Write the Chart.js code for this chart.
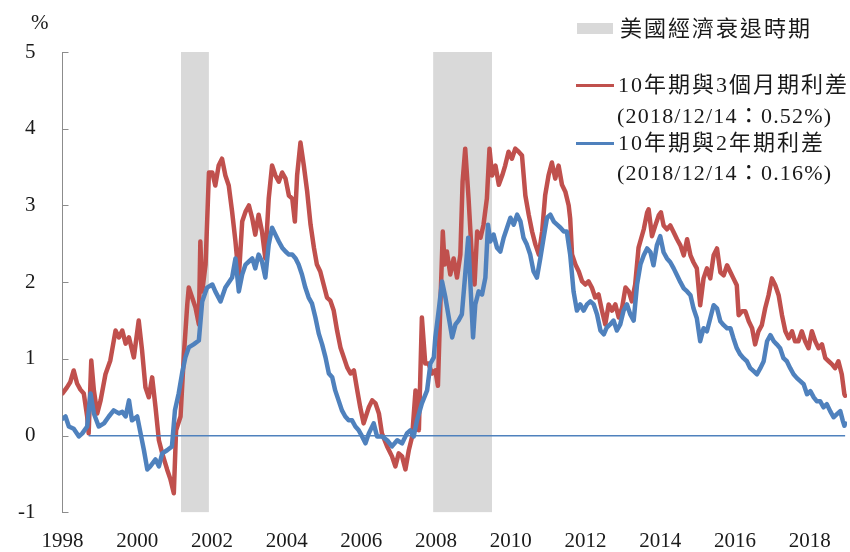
<!DOCTYPE html>
<html>
<head>
<meta charset="utf-8">
<style>
  body { margin: 0; background: #fff; }
  #wrap { position: relative; width: 850px; height: 552px; }
  #myChart { position: absolute; left: 0; top: 0; }
  .txt { position: absolute; white-space: nowrap; color: #1a1a1a; line-height: 24px; height: 24px;
         font-family: "Liberation Serif", "Noto Sans CJK TC", serif; font-size: 22px; }
  .cjk { letter-spacing: 2px; }
  .date { letter-spacing: 1.2px; }
  .swatch { position: absolute; }
</style>
</head>
<body>
<div id="wrap">
  <canvas id="myChart" width="850" height="552"></canvas>

  <!-- unit label -->
  <div class="txt" style="left:31px; top:10px; font-size:21px;">%</div>

  <!-- legend -->
  <div class="swatch" style="left:577px; top:23px; width:36px; height:11px; background:#D9D9D9;"></div>
  <div class="txt cjk" style="left:620px; top:17px;">美國經濟衰退時期</div>

  <div class="swatch" style="left:576px; top:84px; width:38px; height:3px; background:#C0504D;"></div>
  <div class="txt cjk" style="left:618px; top:73px;">10年期與3個月期利差</div>
  <div class="txt date" style="left:617px; top:104px;">(2018/12/14：0.52%)</div>

  <div class="swatch" style="left:576px; top:142px; width:38px; height:3px; background:#4F81BD;"></div>
  <div class="txt cjk" style="left:618px; top:131px;">10年期與2年期利差</div>
  <div class="txt date" style="left:617px; top:161px;">(2018/12/14：0.16%)</div>
</div>

<script type="text/javascript" src="https://cdn.jsdelivr.net/npm/chart.js@4.4.2/dist/chart.umd.min.js"></script>
<script>
// x values are decimal years, y values are percent
const xTickYears = [1998, 2000, 2002, 2004, 2006, 2008, 2010, 2012, 2014, 2016, 2018];
const yTickValues = [-1, 0, 1, 2, 3, 4, 5];

// US recessions (shaded)
const recessionStarts = [2001.17, 2007.92];
const recessionEnds = [2001.92, 2009.5];

// 10y - 3m spread
const spread3mDates = [
    1998.00, 1998.12, 1998.21, 1998.30, 1998.39, 1998.48, 1998.57, 1998.66, 1998.70, 1998.77,
    1998.84, 1998.93, 1999.02, 1999.15, 1999.28, 1999.42, 1999.51, 1999.60, 1999.69, 1999.78,
    1999.91, 2000.04, 2000.13, 2000.22, 2000.31, 2000.40, 2000.49, 2000.58, 2000.67, 2000.80,
    2000.89, 2000.98, 2001.04, 2001.16, 2001.25, 2001.34, 2001.38, 2001.47, 2001.56, 2001.65,
    2001.69, 2001.74, 2001.83, 2001.92, 2002.01, 2002.09, 2002.18, 2002.27, 2002.36, 2002.45,
    2002.54, 2002.63, 2002.72, 2002.81,
    2002.90, 2002.99, 2003.08, 2003.16, 2003.25, 2003.34, 2003.43, 2003.52, 2003.61, 2003.70,
    2003.79, 2003.88, 2003.97, 2004.06, 2004.15, 2004.22, 2004.28, 2004.37, 2004.46, 2004.55,
    2004.64, 2004.73, 2004.81, 2004.90, 2004.99, 2005.08, 2005.17, 2005.26, 2005.35, 2005.44,
    2005.53, 2005.62, 2005.71, 2005.80, 2005.89, 2005.97, 2006.06, 2006.20, 2006.29, 2006.38,
    2006.47, 2006.55, 2006.69, 2006.82, 2006.91, 2007.00, 2007.09, 2007.18, 2007.27, 2007.36,
    2007.45, 2007.54, 2007.62, 2007.71, 2007.80, 2007.89, 2007.98,
    2008.05, 2008.11, 2008.18, 2008.23, 2008.29, 2008.38, 2008.47, 2008.56, 2008.65, 2008.71,
    2008.78, 2008.87, 2008.96, 2009.03, 2009.10, 2009.19, 2009.27, 2009.36, 2009.43, 2009.50,
    2009.59, 2009.68, 2009.77, 2009.85, 2009.94, 2010.03, 2010.12, 2010.21, 2010.30, 2010.39,
    2010.48, 2010.57, 2010.66, 2010.75, 2010.84, 2010.92, 2011.01, 2011.10, 2011.19, 2011.28,
    2011.37, 2011.46, 2011.55, 2011.59, 2011.64, 2011.73, 2011.82, 2011.91, 2012.00, 2012.08,
    2012.17, 2012.26, 2012.35, 2012.44, 2012.53, 2012.62, 2012.71, 2012.80, 2012.89, 2012.98,
    2013.07, 2013.16, 2013.24, 2013.33, 2013.42,
    2013.56, 2013.65, 2013.69, 2013.78, 2013.87, 2013.96, 2014.02, 2014.09, 2014.18, 2014.27,
    2014.36, 2014.45, 2014.54, 2014.63, 2014.72, 2014.81, 2014.89, 2014.98, 2015.07, 2015.16,
    2015.25, 2015.34, 2015.43, 2015.52, 2015.61, 2015.70, 2015.79, 2015.88, 2015.96, 2016.05,
    2016.10, 2016.19, 2016.28, 2016.37, 2016.46, 2016.54, 2016.63, 2016.72, 2016.81, 2016.90,
    2016.99, 2017.08, 2017.17, 2017.26, 2017.35, 2017.44, 2017.53, 2017.61, 2017.70, 2017.79,
    2017.88, 2017.97, 2018.06, 2018.15, 2018.24, 2018.33, 2018.42, 2018.51, 2018.60, 2018.68,
    2018.77, 2018.86, 2018.93, 2018.95
];
const spread3mValues = [
    0.55, 0.63, 0.70, 0.85, 0.68, 0.60, 0.55, 0.25, 0.03, 0.98,
    0.59, 0.29, 0.46, 0.80, 0.98, 1.37, 1.28, 1.37, 1.20, 1.28,
    1.02, 1.50, 1.11, 0.63, 0.50, 0.76, 0.37, -0.06, -0.23, -0.44,
    -0.57, -0.75, 0.07, 0.25, 1.06, 1.71, 1.93, 1.80, 1.67, 1.45,
    2.53, 1.88, 2.23, 3.43, 3.43, 3.26, 3.52, 3.61, 3.39, 3.26,
    2.92, 2.53, 2.06, 2.79,
    2.92, 3.00, 2.83, 2.62, 2.88, 2.66, 2.31, 3.09, 3.52, 3.39,
    3.31, 3.43, 3.35, 3.13, 3.09, 2.79, 3.39, 3.82, 3.52, 3.18,
    2.75, 2.45, 2.23, 2.14, 1.97, 1.80, 1.76, 1.63, 1.37, 1.15,
    1.02, 0.89, 0.81, 0.85, 0.59, 0.37, 0.16, 0.37, 0.46, 0.42,
    0.29, 0.03, -0.14, -0.27, -0.40, -0.23, -0.27, -0.44, -0.19, -0.01,
    0.59, 0.07, 1.54, 0.94, 0.94, 0.81, 0.85,
    0.65, 1.63, 2.66, 2.23, 2.40, 2.10, 2.31, 2.06, 2.36, 3.31,
    3.74, 3.09, 2.31, 1.97, 2.66, 2.58, 2.75, 3.09, 3.74, 3.39,
    3.52, 3.27, 3.39, 3.52, 3.70, 3.61, 3.74, 3.70, 3.65, 3.13,
    2.88, 2.66, 2.49, 2.36, 2.66, 3.13, 3.39, 3.56, 3.35, 3.52,
    3.27, 3.18, 3.00, 2.83, 2.36, 2.23, 2.14, 2.01, 1.97, 2.01,
    1.93, 1.80, 1.84, 1.63, 1.45, 1.71, 1.63, 1.71, 1.54, 1.67,
    1.93, 1.88, 1.75, 1.97, 2.45,
    2.69, 2.91, 2.95, 2.60, 2.74, 2.87, 2.91, 2.74, 2.69, 2.74,
    2.65, 2.56, 2.48, 2.35, 2.56, 2.35, 2.26, 2.18, 1.70, 2.05,
    2.18, 2.05, 2.35, 2.44, 2.13, 2.09, 2.22, 2.13, 2.05, 1.96,
    1.57, 1.62, 1.62, 1.49, 1.40, 1.19, 1.36, 1.44, 1.66, 1.83,
    2.05, 1.96, 1.83, 1.57, 1.36, 1.27, 1.36, 1.23, 1.23, 1.36,
    1.23, 1.14, 1.36, 1.23, 1.14, 1.19, 1.01, 0.97, 0.93, 0.88,
    0.97, 0.80, 0.54, 0.52
];

// 10y - 2y spread
const spread2yDates = [
    1998.00, 1998.08, 1998.17, 1998.30, 1998.44, 1998.53, 1998.66, 1998.75, 1998.84, 1998.97,
    1999.11, 1999.24, 1999.37, 1999.51, 1999.60, 1999.69, 1999.78, 1999.86, 2000.00, 2000.09,
    2000.18, 2000.27, 2000.35, 2000.49, 2000.58, 2000.67, 2000.80, 2000.93, 2001.01, 2001.11,
    2001.20, 2001.29, 2001.38, 2001.51, 2001.65, 2001.74, 2001.87, 2002.01, 2002.09, 2002.23,
    2002.36, 2002.54, 2002.63, 2002.72, 2002.81,
    2002.90, 2002.99, 2003.08, 2003.16, 2003.25, 2003.34, 2003.43, 2003.52, 2003.61, 2003.70,
    2003.79, 2003.88, 2003.97, 2004.06, 2004.15, 2004.24, 2004.32, 2004.41, 2004.50, 2004.59,
    2004.68, 2004.77, 2004.86, 2004.95, 2005.04, 2005.13, 2005.22, 2005.30, 2005.39, 2005.48,
    2005.57, 2005.66, 2005.75, 2005.84, 2005.93, 2006.02, 2006.11, 2006.20, 2006.33, 2006.42,
    2006.55, 2006.69, 2006.82, 2006.96, 2007.09, 2007.22, 2007.31, 2007.40, 2007.49, 2007.62,
    2007.76, 2007.85, 2007.94,
    2007.98, 2008.07, 2008.16, 2008.25, 2008.34, 2008.43, 2008.52, 2008.60, 2008.69, 2008.78,
    2008.86, 2008.92, 2008.99, 2009.05, 2009.14, 2009.23, 2009.32, 2009.39, 2009.45, 2009.54,
    2009.63, 2009.72, 2009.81, 2009.90, 2009.99, 2010.08, 2010.17, 2010.26, 2010.34, 2010.43,
    2010.52, 2010.61, 2010.70, 2010.79, 2010.88, 2010.97, 2011.06, 2011.15, 2011.24, 2011.33,
    2011.42, 2011.50, 2011.59, 2011.68, 2011.77, 2011.86, 2011.95, 2012.04, 2012.13, 2012.22,
    2012.31, 2012.40, 2012.49, 2012.57, 2012.66, 2012.75, 2012.84, 2012.93, 2013.02, 2013.11,
    2013.20, 2013.29, 2013.38, 2013.47,
    2013.56, 2013.65, 2013.74, 2013.82, 2013.91, 2014.00, 2014.09, 2014.18, 2014.27, 2014.36,
    2014.45, 2014.54, 2014.63, 2014.72, 2014.81, 2014.89, 2014.98, 2015.07, 2015.16, 2015.25,
    2015.34, 2015.43, 2015.52, 2015.61, 2015.70, 2015.79, 2015.88, 2015.96, 2016.05, 2016.14,
    2016.23, 2016.32, 2016.41, 2016.50, 2016.59, 2016.68, 2016.77, 2016.86, 2016.95, 2017.04,
    2017.12, 2017.21, 2017.30, 2017.39, 2017.48, 2017.57, 2017.66, 2017.75, 2017.84, 2017.93,
    2018.02, 2018.11, 2018.19, 2018.28, 2018.37, 2018.46, 2018.55, 2018.64, 2018.73, 2018.82,
    2018.89, 2018.93, 2018.95
];
const spread2yValues = [
    0.22, 0.25, 0.12, 0.09, -0.01, 0.03, 0.12, 0.55, 0.29, 0.12,
    0.16, 0.25, 0.33, 0.29, 0.31, 0.25, 0.46, 0.20, 0.25, 0.03,
    -0.19, -0.44, -0.40, -0.31, -0.40, -0.23, -0.19, -0.14, 0.33, 0.55,
    0.81, 1.02, 1.15, 1.19, 1.24, 1.75, 1.93, 1.97, 1.88, 1.75,
    1.93, 2.06, 2.31, 1.88, 2.10,
    2.23, 2.27, 2.31, 2.18, 2.36, 2.27, 2.06, 2.49, 2.71, 2.62,
    2.53, 2.45, 2.40, 2.36, 2.36, 2.31, 2.23, 2.10, 1.93, 1.80,
    1.72, 1.54, 1.33, 1.19, 1.02, 0.81, 0.76, 0.59, 0.46, 0.33,
    0.25, 0.20, 0.20, 0.12, 0.07, -0.01, -0.10, 0.03, 0.16, -0.01,
    -0.01, -0.06, -0.14, -0.06, -0.10, 0.03, 0.07, -0.01, 0.20, 0.42,
    0.59, 0.94, 1.02,
    1.28, 1.63, 2.01, 1.80, 1.54, 1.28, 1.45, 1.50, 1.58, 2.10,
    2.58, 1.97, 1.28, 1.71, 1.88, 1.84, 2.06, 2.75, 2.53, 2.62,
    2.45, 2.40, 2.58, 2.71, 2.84, 2.75, 2.88, 2.79, 2.58, 2.49,
    2.36, 2.14, 2.06, 2.31, 2.58, 2.84, 2.88, 2.79, 2.75, 2.71,
    2.66, 2.66, 2.36, 1.88, 1.63, 1.71, 1.63, 1.71, 1.75, 1.71,
    1.58, 1.37, 1.32, 1.41, 1.45, 1.50, 1.37, 1.45, 1.63, 1.71,
    1.58, 1.50, 1.97, 2.23,
    2.35, 2.44, 2.39, 2.22, 2.48, 2.60, 2.39, 2.31, 2.26, 2.18,
    2.09, 2.00, 1.92, 1.88, 1.83, 1.66, 1.53, 1.23, 1.40, 1.36,
    1.53, 1.70, 1.66, 1.49, 1.44, 1.40, 1.40, 1.27, 1.14, 1.06,
    1.01, 0.97, 0.88, 0.84, 0.80, 0.88, 0.97, 1.23, 1.31, 1.23,
    1.19, 1.14, 1.01, 0.97, 0.88, 0.80, 0.75, 0.71, 0.67, 0.54,
    0.58, 0.50, 0.45, 0.45, 0.37, 0.41, 0.32, 0.24, 0.28, 0.32,
    0.19, 0.13, 0.16
];

// zero reference line
const zeroLineDates = [1998.7, 2018.95];
const zeroLineValues = [0, 0];

const redColor = '#C0504D';
const blueColor = '#4F81BD';
const shadeColor = '#D9D9D9';
const axisColor = '#8C8C8C';
const serif = '"Liberation Serif", "Times New Roman", serif';

function toPoints(xs, ys) {
    return xs.map((x, i) => ({ x: x, y: ys[i] }));
}

const lineStyle = { pointRadius: 0, tension: 0, fill: false, borderJoinStyle: 'round', borderCapStyle: 'round' };

const datasets = [
    { label: 'zero', data: toPoints(zeroLineDates, zeroLineValues), borderColor: blueColor, borderWidth: 1.5, ...lineStyle, borderCapStyle: 'butt' },
    { label: '10年期與2年期利差', data: toPoints(spread2yDates, spread2yValues), borderColor: blueColor, borderWidth: 4.5, ...lineStyle },
    { label: '10年期與3個月期利差', data: toPoints(spread3mDates, spread3mValues), borderColor: redColor, borderWidth: 4.5, ...lineStyle }
];

// recession shading: flat line at the top of the axis filled down to the bottom
recessionStarts.forEach((start, i) => {
    datasets.push({
        label: 'recession',
        data: [{ x: start, y: 5 }, { x: recessionEnds[i], y: 5 }],
        borderWidth: 0,
        pointRadius: 0,
        fill: 'start',
        backgroundColor: shadeColor
    });
});

// small tick marks pointing into the plot on the y axis
const innerTicks = {
    id: 'innerTicks',
    beforeDatasetsDraw(chart) {
        const ctx = chart.ctx;
        const y = chart.scales.y;
        const left = chart.chartArea.left;
        ctx.save();
        ctx.strokeStyle = axisColor;
        ctx.lineWidth = 1;
        ctx.beginPath();
        y.ticks.forEach(t => {
            const py = Math.round(y.getPixelForValue(t.value)) + 0.5;
            ctx.moveTo(left, py);
            ctx.lineTo(left + 6, py);
        });
        ctx.stroke();
        ctx.restore();
    }
};

const config = {
    type: 'line',
    data: { datasets },
    options: {
        responsive: false,
        animation: false,
        layout: { padding: { left: 0, right: 3, top: 52, bottom: 0 } },
        plugins: {
            legend: { display: false },
            tooltip: { enabled: false }
        },
        scales: {
            x: {
                type: 'linear',
                min: 1998,
                max: 2019,
                grid: { display: false, drawTicks: false },
                border: { display: false },
                afterBuildTicks: (scale) => { scale.ticks = xTickYears.map(v => ({ value: v })); },
                afterFit: (scale) => { scale.height = 35; },
                ticks: {
                    color: '#1a1a1a',
                    font: { family: serif, size: 21 },
                    padding: 16,
                    maxRotation: 0,
                    autoSkip: false,
                    callback: (value) => String(value)
                }
            },
            y: {
                min: -1,
                max: 5,
                grid: { display: false, drawTicks: false },
                border: { display: true, color: axisColor, width: 1 },
                afterBuildTicks: (scale) => { scale.ticks = yTickValues.map(v => ({ value: v })); },
                afterFit: (scale) => { scale.width = 62.5; },
                ticks: {
                    color: '#1a1a1a',
                    font: { family: serif, size: 21 },
                    padding: 27,
                    callback: (value) => String(value)
                }
            }
        }
    },
    plugins: [innerTicks]
};

const myChart = new Chart(document.getElementById('myChart'), config);
</script>
</body>
</html>
